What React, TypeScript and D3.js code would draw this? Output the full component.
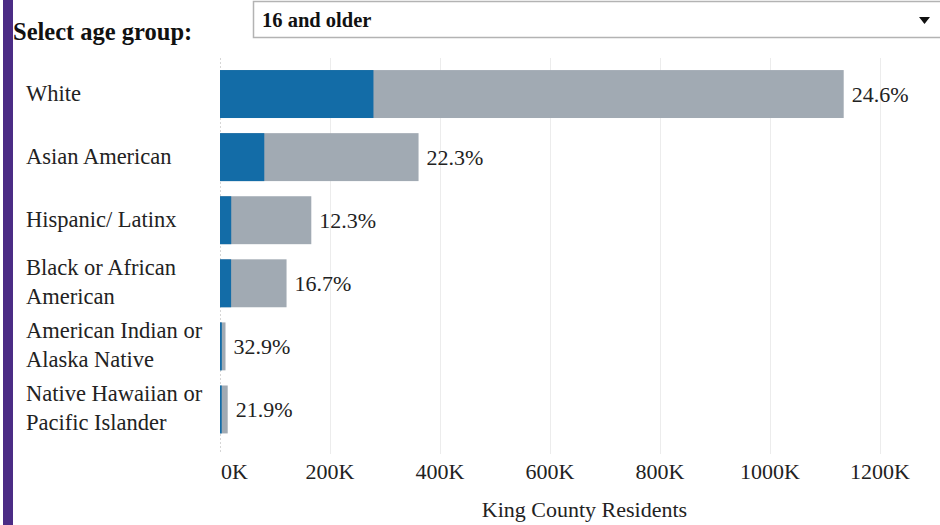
import React from "react";
import * as d3 from "d3";

const categories = [
  "White",
  "Asian American",
  "Hispanic/ Latinx",
  "Black or African American",
  "American Indian or Alaska Native",
  "Native Hawaiian or Pacific Islander",
];
const categoryLines = [
  ["White"],
  ["Asian American"],
  ["Hispanic/ Latinx"],
  ["Black or African", "American"],
  ["American Indian or", "Alaska Native"],
  ["Native Hawaiian or", "Pacific Islander"],
];
const totals = [1134000, 361000, 166000, 121000, 10000, 14000];
const subsetValues = [279000, 80500, 20400, 20200, 3300, 3100];
const pctLabels = ["24.6%", "22.3%", "12.3%", "16.7%", "32.9%", "21.9%"];
const xTicks = [0, 200000, 400000, 600000, 800000, 1000000, 1200000];
const ageGroup = "16 and older";

const W = 940;
const H = 525;
const FONT = "'Liberation Serif', 'Times New Roman', Times, serif";

export default function App() {
  const x = d3.scaleLinear().domain([0, 1200000]).range([220, 880]);
  const y = d3
    .scaleBand<string>()
    .domain(categories)
    .range([62.5, 441])
    .paddingInner(0.24)
    .paddingOuter(0.12);
  const fmt = (v: number) => `${Math.round(v / 1000)}K`;
  const gridTop = 58;
  const gridBottom = 454;

  return (
    <svg
      width={W}
      height={H}
      style={{ position: "absolute", left: 0, top: 0, background: "#fff" }}
      fontFamily={FONT}
    >
      <rect x={3} y={0} width={10} height={H} fill="#4b2c85" />

      <text x={13} y={40} fontSize={24.5} fontWeight="bold" fill="#111">
        Select age group:
      </text>

      <g>
        <path
          d={`M ${W + 5} 1.5 H 253.5 V 37.5 H ${W + 5}`}
          fill="#fff"
          stroke="#b3b3b3"
          strokeWidth={1.5}
        />
        <text x={262} y={27} fontSize={20.5} fontWeight="bold" fill="#111">
          {ageGroup}
        </text>
        <path d="M 919 17 L 930 17 L 924.5 24 Z" fill="#111" />
      </g>

      <g>
        {xTicks.map((t) => (
          <line
            key={"g" + t}
            x1={x(t) + 0.5}
            x2={x(t) + 0.5}
            y1={gridTop}
            y2={gridBottom}
            stroke={t === 0 ? "#d6d6d6" : "#ececec"}
            strokeWidth={1}
            strokeDasharray={t === 0 ? "2,2" : undefined}
          />
        ))}
      </g>

      <g>
        {categories.map((c, i) => {
          const by = y(c) as number;
          const bh = y.bandwidth();
          return (
            <g key={c}>
              <rect
                x={x(0)}
                y={by}
                width={x(totals[i]) - x(0)}
                height={bh}
                fill="#a1aab3"
              />
              <rect
                x={x(0)}
                y={by}
                width={x(subsetValues[i]) - x(0)}
                height={bh}
                fill="#136ca7"
              />
              <text
                x={x(totals[i]) + 8}
                y={by + bh / 2 + 7.5}
                fontSize={22}
                fill="#222"
              >
                {pctLabels[i]}
              </text>
            </g>
          );
        })}
      </g>

      <g>
        {categories.map((c, i) => {
          const cy = (y(c) as number) + y.bandwidth() / 2;
          const lines = categoryLines[i];
          return (
            <text key={"l" + c} x={26} fontSize={22.5} fill="#222">
              {lines.map((ln, j) => (
                <tspan
                  key={j}
                  x={26}
                  y={lines.length === 1 ? cy + 7 : cy - 8.5 + j * 29}
                >
                  {ln}
                </tspan>
              ))}
            </text>
          );
        })}
      </g>

      <g>
        {xTicks.map((t, i) => (
          <text
            key={"t" + t}
            x={i === 0 ? x(t) + 1 : x(t)}
            y={479}
            fontSize={22}
            fill="#222"
            textAnchor={i === 0 ? "start" : "middle"}
          >
            {fmt(t)}
          </text>
        ))}
        <text x={584.5} y={517} fontSize={22} fill="#222" textAnchor="middle">
          King County Residents
        </text>
      </g>
    </svg>
  );
}
